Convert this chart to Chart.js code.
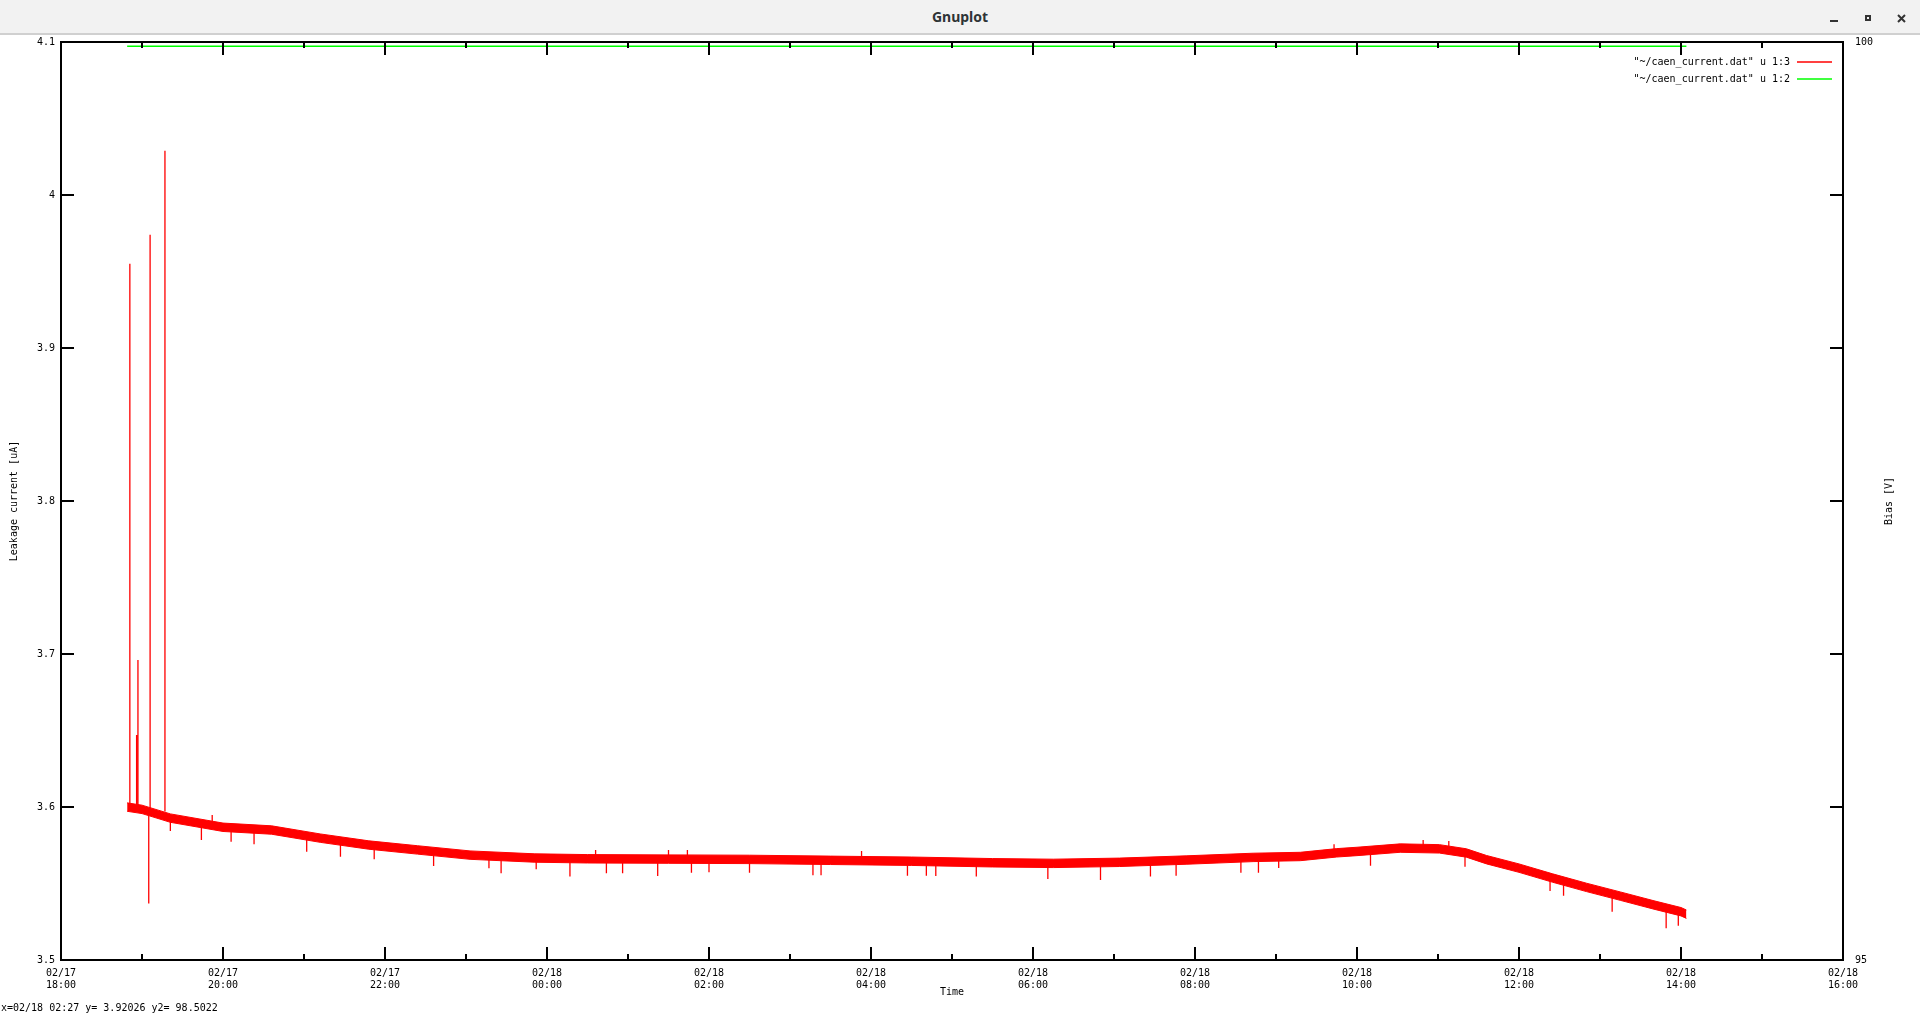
<!DOCTYPE html>
<html>
<head>
<meta charset="utf-8">
<title>Gnuplot</title>
<script src="https://cdn.jsdelivr.net/npm/chart.js@4.4.1/dist/chart.umd.min.js"></script>
<style>
  html, body { margin: 0; padding: 0; background: #fff; overflow: hidden; }
  #titlebar { position: absolute; left: 0; top: 0; width: 1920px; height: 33px; background: #f2f2f2; border-bottom: 2px solid #d0d0d0; }
  #titlebar .title { position: absolute; left: 0; right: 0; top: 7px; text-align: center; font-family: "Noto Sans", sans-serif; font-size: 14px; font-weight: bold; color: #2e3436; }
  #titlebar svg { position: absolute; left: 0; top: 0; }
  #wrap { position: absolute; left: 0; top: 35px; }
</style>
</head>
<body>
<div id="titlebar">
  <div class="title">Gnuplot</div>
  <svg width="1920" height="33">
    <rect x="1830" y="20" width="8" height="2" fill="#333"/>
    <rect x="1866" y="16" width="4" height="4" fill="none" stroke="#333" stroke-width="2"/>
    <path d="M1898 15 L1905 22 M1905 15 L1898 22" stroke="#333" stroke-width="2"/>
  </svg>
</div>
<div id="wrap"><canvas id="plot" width="1920" height="979"></canvas></div>
<script>
// Leakage current / bias log, drawn like the gnuplot x11 window

const RED = '#ff0000';
const GREEN = '#00ff00';
const FONT = { family: '"DejaVu Sans Mono", monospace', size: 10, lineHeight: 1.25 };
const MAJOR = 13;
const MINOR = 6;
const PLOT_TOP = 7; // canvas px above the frame

// Axis ticks
const xTickValues = [0, 2, 4, 6, 8, 10, 12, 14, 16, 18, 20, 22];
const xTickDates = ['02/17', '02/17', '02/17', '02/18', '02/18', '02/18', '02/18', '02/18', '02/18', '02/18', '02/18', '02/18'];
const xTickTimes = ['18:00', '20:00', '22:00', '00:00', '02:00', '04:00', '06:00', '08:00', '10:00', '12:00', '14:00', '16:00'];
const yTickValues = [3.5, 3.6, 3.7, 3.8, 3.9, 4.0, 4.1];
const yTickLabels = ['3.5', '3.6', '3.7', '3.8', '3.9', '4', '4.1'];
const y2TickValues = [95, 100];
const y2TickLabels = ['95', '100'];

// Leakage current (u 1:3): noisy band, upper and lower edge
const curTimes = [
  '02/17 18:49', '02/17 19:00', '02/17 19:21', '02/17 20:00', '02/17 20:36', '02/17 21:12',
  '02/17 21:48', '02/17 22:24', '02/17 23:03', '02/17 23:51', '02/18 00:30', '02/18 01:30',
  '02/18 02:30', '02/18 03:30', '02/18 04:30', '02/18 05:30', '02/18 06:15', '02/18 07:04',
  '02/18 07:54', '02/18 08:43', '02/18 09:18', '02/18 09:45', '02/18 10:00', '02/18 10:32',
  '02/18 11:01', '02/18 11:21', '02/18 11:36', '02/18 12:00', '02/18 12:25', '02/18 12:50',
  '02/18 13:15', '02/18 13:40', '02/18 14:00', '02/18 14:04'
];
const curUpper = [
  3.6027, 3.6012, 3.5955, 3.5895, 3.5877, 3.5824, 3.5779, 3.5747, 3.5713, 3.5694, 3.5689, 3.5687,
  3.5685, 3.5679, 3.5673, 3.5663, 3.5659, 3.5666, 3.5681, 3.5698, 3.5704, 3.5728, 3.5737, 3.5759,
  3.5754, 3.5727, 3.5683, 3.5628, 3.5563, 3.5502, 3.5445, 3.5387, 3.5343, 3.5327
];
const curLower = [
  3.5972, 3.5957, 3.5900, 3.5840, 3.5822, 3.5769, 3.5724, 3.5692, 3.5658, 3.5639, 3.5634, 3.5632,
  3.5630, 3.5624, 3.5618, 3.5608, 3.5604, 3.5611, 3.5626, 3.5643, 3.5649, 3.5673, 3.5682, 3.5704,
  3.5699, 3.5672, 3.5628, 3.5573, 3.5508, 3.5447, 3.5390, 3.5332, 3.5288, 3.5272
];

// Single-sample spikes at the start of the run
const spikeTimes = ['02/17 18:51', '02/17 18:56', '02/17 18:57', '02/17 19:05', '02/17 19:06', '02/17 19:17'];
const spikeBase = [3.600, 3.600, 3.600, 3.597, 3.599, 3.597];
const spikeValues = [3.955, 3.647, 3.696, 3.537, 3.974, 4.029];

// Larger noise excursions out of the band
const noiseTimes = [
  '02/17 19:21', '02/17 19:44', '02/17 19:52', '02/17 20:06', '02/17 20:23', '02/17 21:02',
  '02/17 21:27', '02/17 21:52', '02/17 22:36', '02/17 23:17', '02/17 23:26', '02/17 23:52',
  '02/18 00:17', '02/18 00:36', '02/18 00:44', '02/18 00:56', '02/18 01:22', '02/18 01:30',
  '02/18 01:44', '02/18 01:47', '02/18 02:00', '02/18 02:30', '02/18 03:17', '02/18 03:23',
  '02/18 03:53', '02/18 04:27', '02/18 04:41', '02/18 04:48', '02/18 05:18', '02/18 06:11',
  '02/18 06:50', '02/18 07:27', '02/18 07:46', '02/18 08:34', '02/18 08:47', '02/18 09:02',
  '02/18 09:43', '02/18 10:10', '02/18 10:49', '02/18 11:08', '02/18 11:20', '02/18 12:23',
  '02/18 12:33', '02/18 13:09', '02/18 13:49', '02/18 13:58'
];
const noiseBase = [
  3.5928, 3.5890, 3.5880, 3.5865, 3.5855, 3.5820, 3.5785, 3.5760, 3.5715, 3.5680, 3.5675, 3.5667,
  3.5664, 3.5662, 3.5662, 3.5661, 3.5660, 3.5660, 3.5660, 3.5660, 3.5659, 3.5658, 3.5654, 3.5653,
  3.5650, 3.5646, 3.5645, 3.5644, 3.5640, 3.5632, 3.5636, 3.5646, 3.5652, 3.5667, 3.5672, 3.5675,
  3.5700, 3.5714, 3.5730, 3.5728, 3.5702, 3.5540, 3.5525, 3.5440, 3.5340, 3.5322
];
const noiseValues = [
  3.5843, 3.5784, 3.5948, 3.5773, 3.5756, 3.5708, 3.5675, 3.5658, 3.5614, 3.5599, 3.5567, 3.5593,
  3.5545, 3.5719, 3.5567, 3.5567, 3.5549, 3.5719, 3.5719, 3.5571, 3.5573, 3.5571, 3.5554, 3.5554,
  3.5712, 3.5551, 3.5551, 3.5549, 3.5545, 3.5529, 3.5523, 3.5545, 3.5551, 3.5571, 3.5571, 3.5601,
  3.5756, 3.5616, 3.5784, 3.5778, 3.5610, 3.5451, 3.5420, 3.5316, 3.5207, 3.5224
];

// Bias voltage (u 1:2)
const biasTimes = ['02/17 18:49', '02/18 14:04'];
const biasValues = [99.977, 99.977];

const statusText = 'x=02/18 02:27 y= 3.92026 y2= 98.5022';

function toHours(s) {
  const [d, t] = s.split(' ');
  const day = parseInt(d.split('/')[1]);
  const [hh, mm] = t.split(':').map(Number);
  return (day - 17) * 24 + hh + mm / 60 - 18;
}

const pts = (times, vals) => times.map((t, i) => ({ x: toHours(t), y: vals[i] }));

// vertical strokes base -> value, broken apart by nulls
function strokes(times, base, vals) {
  const out = [];
  times.forEach((t, i) => {
    const x = toHours(t);
    out.push({ x: x, y: base[i] }, { x: x, y: vals[i] }, { x: x, y: null });
  });
  return out;
}

// Border, inward ticks, legend, right label and status line
const gnuplotFrame = {
  id: 'gnuplotFrame',
  afterDraw(chart) {
    const { ctx, chartArea: a, scales } = chart;
    ctx.save();
    ctx.strokeStyle = '#000';
    ctx.lineWidth = 2;
    ctx.beginPath();
    for (let h = 1; h < 22; h++) {
      const x = Math.round(scales.x.getPixelForValue(h));
      const len = h % 2 === 0 ? MAJOR : MINOR;
      ctx.moveTo(x, a.bottom); ctx.lineTo(x, a.bottom - len);
      ctx.moveTo(x, a.top); ctx.lineTo(x, a.top + len);
    }
    yTickValues.slice(1, -1).forEach(v => {
      const y = Math.round(scales.y.getPixelForValue(v));
      ctx.moveTo(a.left, y); ctx.lineTo(a.left + MAJOR, y);
      ctx.moveTo(a.right, y); ctx.lineTo(a.right - MAJOR, y);
    });
    ctx.stroke();
    ctx.strokeRect(a.left, a.top, a.right - a.left, a.bottom - a.top);

    ctx.fillStyle = '#000';
    ctx.font = '10px "DejaVu Sans Mono", monospace';
    ctx.textBaseline = 'middle';

    // legend, top right inside the frame
    const items = chart.data.datasets.filter(ds => ds.label);
    items.forEach((ds, i) => {
      const y = a.top + 20 + i * 17;
      ctx.textAlign = 'right';
      ctx.fillText(ds.label, 1790, y);
      ctx.strokeStyle = ds.borderColor;
      ctx.lineWidth = 1.5;
      ctx.beginPath();
      ctx.moveTo(1797, y); ctx.lineTo(1832, y);
      ctx.stroke();
    });

    // y2 title reads bottom to top like the y title
    ctx.save();
    ctx.translate(1889, (a.top + a.bottom) / 2);
    ctx.rotate(-Math.PI / 2);
    ctx.textAlign = 'center';
    ctx.fillText('Bias [V]', 0, 0);
    ctx.restore();

    ctx.textAlign = 'left';
    ctx.fillText(statusText, 1, 973);
    ctx.restore();
  }
};

const axisFont = { family: FONT.family, size: FONT.size, lineHeight: FONT.lineHeight };
const fixV = w => s => { s.width = w; s.paddingTop = PLOT_TOP; s.paddingBottom = 0; };

new Chart(document.getElementById('plot'), {
  type: 'line',
  data: {
    datasets: [
      { label: '"~/caen_current.dat" u 1:3', data: pts(curTimes, curUpper), borderColor: RED, borderWidth: 1, pointRadius: 0, fill: false, yAxisID: 'y' },
      { label: '', data: pts(curTimes, curLower), borderColor: RED, backgroundColor: RED, borderWidth: 1, pointRadius: 0, fill: '-1', yAxisID: 'y' },
      { label: '', data: strokes(noiseTimes, noiseBase, noiseValues), borderColor: RED, borderWidth: 1.3, pointRadius: 0, spanGaps: false, fill: false, yAxisID: 'y' },
      { label: '', data: strokes(spikeTimes, spikeBase, spikeValues), borderColor: RED, borderWidth: 1.3, pointRadius: 0, spanGaps: false, fill: false, yAxisID: 'y' },
      { label: '"~/caen_current.dat" u 1:2', data: pts(biasTimes, biasValues), borderColor: GREEN, borderWidth: 1.5, pointRadius: 0, fill: false, yAxisID: 'y2' }
    ]
  },
  options: {
    responsive: false,
    animation: false,
    layout: { padding: { top: PLOT_TOP, left: 0, right: 0, bottom: 0 } },
    plugins: { legend: { display: false }, tooltip: { enabled: false } },
    scales: {
      x: {
        type: 'linear', min: 0, max: 22,
        afterBuildTicks: s => { s.ticks = xTickValues.map(v => ({ value: v })); },
        afterFit: s => { s.height = 54; s.paddingLeft = 0; s.paddingRight = 0; },
        grid: { display: false, drawTicks: false },
        border: { display: false },
        ticks: {
          autoSkip: false, maxRotation: 0, minRotation: 0, padding: 7, color: '#000', font: axisFont,
          callback: (v, i) => [xTickDates[i], xTickTimes[i]]
        },
        title: { display: true, text: 'Time', color: '#000', font: axisFont, padding: { top: 0, bottom: 15 } }
      },
      y: {
        type: 'linear', position: 'left', min: 3.5, max: 4.1,
        afterBuildTicks: s => { s.ticks = yTickValues.map(v => ({ value: v })); },
        afterFit: fixV(61),
        grid: { display: false, drawTicks: false },
        border: { display: false },
        ticks: { padding: 6, color: '#000', font: axisFont, callback: (v, i) => yTickLabels[i] },
        title: { display: true, text: 'Leakage current [uA]', color: '#000', font: axisFont, padding: { top: 8, bottom: 0 } }
      },
      y2: {
        type: 'linear', position: 'right', min: 95, max: 100,
        afterBuildTicks: s => { s.ticks = y2TickValues.map(v => ({ value: v })); },
        afterFit: fixV(77),
        grid: { display: false, drawTicks: false },
        border: { display: false },
        ticks: { padding: 12, color: '#000', font: axisFont, callback: (v, i) => y2TickLabels[i] }
      }
    }
  },
  plugins: [gnuplotFrame]
});
</script>
</body>
</html>
